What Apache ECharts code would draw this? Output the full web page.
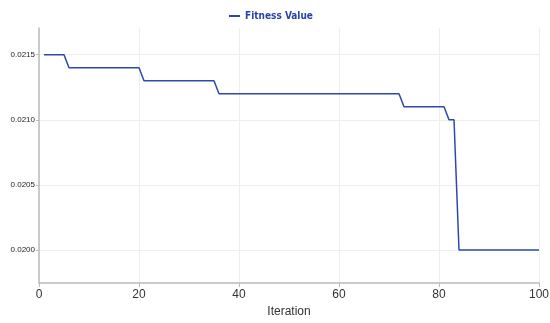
<!DOCTYPE html>
<html><head><meta charset="utf-8">
<script src="https://cdn.jsdelivr.net/npm/echarts@6/dist/echarts.min.js"></script>
<style>html,body{margin:0;padding:0;background:#fff}#c{width:550px;height:323px}</style>
</head><body><div id="c"></div>
<script>
const iterations = [1,5,6,20,21,35,36,72,73,81,82,83,84,100];
const fitness = [0.0215,0.0215,0.0214,0.0214,0.0213,0.0213,0.0212,0.0212,0.0211,0.0211,0.0210,0.0210,0.0200,0.0200];
const xTicks = [0,20,40,60,80,100];
const yTicks = [0.0200,0.0205,0.0210,0.0215];
const seriesName = 'Fitness Value';
const data = iterations.map((x,i)=>[x,fitness[i]]);
const chart = echarts.init(document.getElementById('c'));
chart.setOption({
  animation:false,
  grid:{left:39,right:11,top:28,bottom:40,containLabel:false,outerBoundsMode:'none'},
  legend:{top:6,left:224,itemWidth:11,itemHeight:2,itemGap:3,
    icon:'rect',
    textStyle:{color:'#2a42ae',fontWeight:'bold',fontSize:10,fontFamily:'DejaVu Sans Condensed'},
    data:[seriesName]},
  xAxis:{type:'value',min:0,max:100,interval:20,
    name:'Iteration',nameLocation:'middle',nameGap:23,
    nameTextStyle:{color:'#333',fontSize:12,fontFamily:'Liberation Sans'},
    axisLine:{lineStyle:{color:'#bbb',width:1.5}},
    axisTick:{show:true,length:4,lineStyle:{color:'#bbb'}},
    axisLabel:{color:'#333',fontSize:12,fontFamily:'Liberation Sans',margin:6},
    splitLine:{show:true,lineStyle:{color:'#eee'}}},
  yAxis:{type:'value',min:0.019747,max:0.021705,
    axisLine:{show:true,lineStyle:{color:'#bbb',width:1.5}},
    axisTick:{show:true,length:3,lineStyle:{color:'#bbb'},customValues:yTicks},
    axisLabel:{color:'#222',fontSize:8,fontFamily:'Liberation Sans',margin:4,
      customValues:yTicks,formatter:v=>v.toFixed(4)},
    splitLine:{show:true,lineStyle:{color:'#eee'}}},
  series:[{name:seriesName,type:'line',data:data,showSymbol:false,symbol:'none',
    lineStyle:{color:'#2c48b0',width:1.5},itemStyle:{color:'#2c48b0'}}]
});
</script></body></html>
